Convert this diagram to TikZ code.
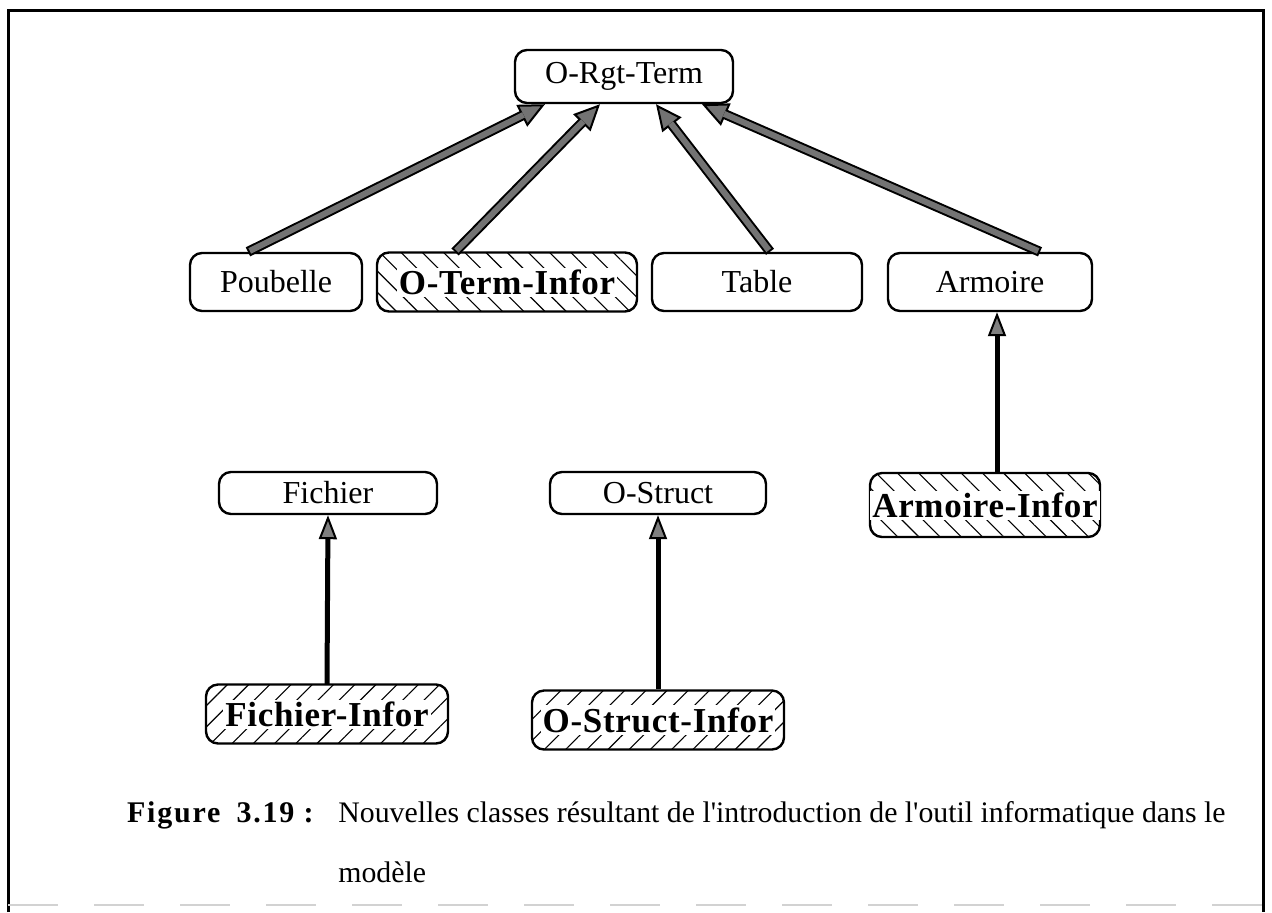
\documentclass[tikz,border=0pt]{standalone}
\usepackage{fontspec}
\setmainfont{Liberation Serif}
\usetikzlibrary{arrows.meta, patterns.meta}

% bold spaced label on a white patch, so the hatching stays round it
\newcommand{\infor}[1]{{\setlength{\fboxsep}{1pt}\colorbox{white}{\fontsize{17.5}{19}\selectfont\bfseries\addfontfeature{LetterSpace=2}#1}}}

\tikzset{
  classe/.style={draw, line width=1.2pt, rounded corners=6pt, inner sep=0pt,
    font=\fontsize{16}{18}\selectfont},
  nouvelle/.style={draw, line width=1.2pt, rounded corners=6pt, inner sep=0pt,
    minimum height=29.5pt},
  hatchNW/.style={nouvelle, pattern={Lines[angle=-45, distance=7.5pt, line width=0.55pt]}},
  hatchNE/.style={nouvelle, pattern={Lines[angle=45, distance=7.5pt, line width=0.55pt]}},
  genarrow/.style={draw=black, line width=5pt,
    -{Triangle[length=13pt, width=12pt, line width=1pt, fill=black!55]},
    postaction={draw=black!55, line width=3pt, -, shorten >=12pt, shorten <=1pt}},
  specarrow/.style={draw=black, line width=2.5pt,
    -{Triangle[length=12pt, width=9pt, line width=1pt, fill=black!50]}}
}

\begin{document}
\begin{tikzpicture}[x=0.5pt, y=-0.5pt]
  \useasboundingbox (0,0) rectangle (1272,912);

  % frame
  \draw[line width=1.5pt] (8,912) -- (8,10) -- (1263,10) -- (1263,912);
  \draw[gray!35, line width=1pt, dash pattern=on 25pt off 18pt] (8,905) -- (1263,905);

  % classes
  \node[classe, minimum width=109pt, minimum height=26.5pt] (rgtterm) at (624,76.5) {O-Rgt-Term};

  \node[classe, minimum width=86pt, minimum height=29pt] (poubelle) at (276,282) {Poubelle};
  \node[hatchNW, minimum width=130pt] (otinfor) at (507,282) {\infor{O-Term-Infor}};
  \node[classe, minimum width=105pt, minimum height=29pt] (table) at (757,282) {Table};
  \node[classe, minimum width=102pt, minimum height=29pt] (armoire) at (990,282) {Armoire};

  \node[classe, minimum width=109pt, minimum height=21pt] (fichier) at (328,493) {Fichier};
  \node[classe, minimum width=108pt, minimum height=21pt] (ostruct) at (658,493) {O-Struct};
  \node[hatchNW, minimum width=115pt, minimum height=32pt] (armoireinfor) at (985,505) {\infor{Armoire-Infor}};

  \node[hatchNE, minimum width=121pt] (fichierinfor) at (327,714) {\infor{Fichier-Infor}};
  \node[hatchNE, minimum width=126pt] (ostructinfor) at (658,720) {\infor{O-Struct-Infor}};

  % heritage
  \draw[genarrow] ([xshift=-14pt]poubelle.north) -- ([xshift=-39.5pt]rgtterm.south);
  \draw[genarrow] ([xshift=-26pt]otinfor.north) -- ([xshift=-12pt]rgtterm.south);
  \draw[genarrow] ([xshift=6.5pt]table.north) -- ([xshift=16pt]rgtterm.south);
  \draw[genarrow] ([xshift=25pt]armoire.north) -- ([xshift=39pt]rgtterm.south);

  \draw[specarrow] ([xshift=6pt]armoireinfor.north) -- ([xshift=3.5pt]armoire.south);
  \draw[specarrow] (fichierinfor.north) -- (fichier.south);
  \draw[specarrow] (ostructinfor.north) -- (ostruct.south);

  % legende
  \node[anchor=base west, font=\fontsize{15}{18}\selectfont\bfseries\addfontfeature{LetterSpace=6}]
    (figlabel) at (120,822) {Figure\hspace{8pt}3.19 :};
  \node[anchor=base west, inner sep=0pt, font=\fontsize{14.9}{18}\selectfont]
    (figtext) at (338,822) {Nouvelles classes r\'esultant de l\textquotesingle introduction de l\textquotesingle outil informatique dans le};
  \node[anchor=base west, inner sep=0pt, font=\fontsize{14.9}{18}\selectfont]
    (figtextb) at (338,882) {mod\`ele};
\end{tikzpicture}
\end{document}
